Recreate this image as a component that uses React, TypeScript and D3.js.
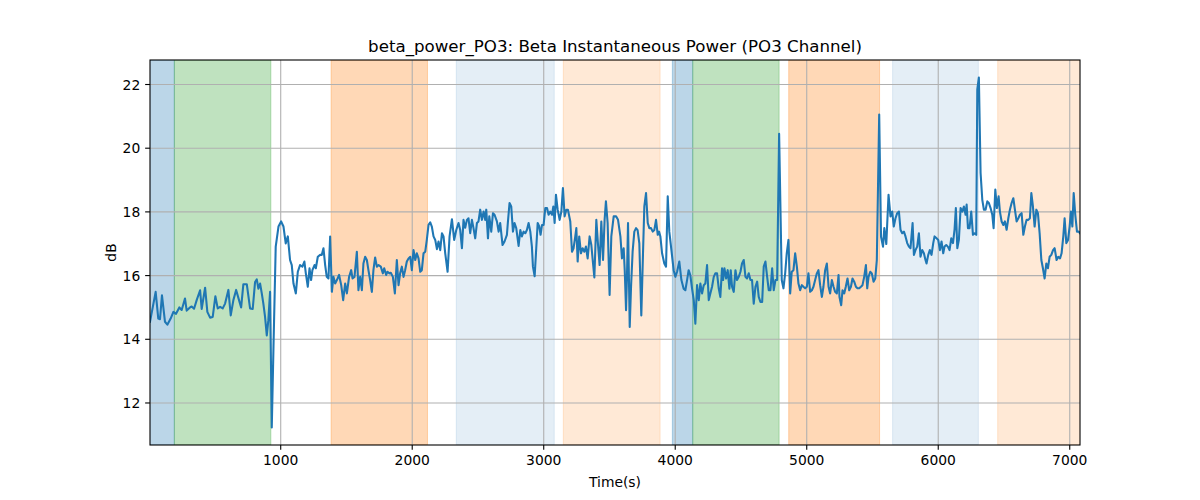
import React from "react";
import * as d3 from "d3";

// ---- data ----
const times = [
  6, 49, 69, 82, 97, 120, 138, 163, 184, 204, 229, 247, 272, 285, 310, 323, 341, 361, 387, 399,
  425, 442, 463, 483, 503, 521, 539, 559, 577, 602, 620, 640, 661, 678, 699, 716, 742, 767, 787,
  805, 818, 830, 843, 856, 868, 881, 894, 906, 919, 932, 945, 962, 983, 1003, 1021, 1038, 1054,
  1071, 1084, 1097, 1115, 1130, 1147, 1165, 1180, 1191, 1206, 1219, 1231, 1241, 1257, 1267, 1282,
  1300, 1312, 1325, 1338, 1350, 1363, 1376, 1389, 1401, 1414, 1427, 1444, 1460, 1475, 1490, 1503,
  1520, 1536, 1546, 1561, 1579, 1591, 1604,
  1617, 1629, 1642, 1655, 1667, 1680, 1693, 1705, 1718, 1731, 1744, 1761, 1777, 1787, 1802, 1812,
  1827, 1837, 1853, 1868, 1883, 1896, 1908, 1921, 1934, 1946, 1959, 1972, 1985, 1997, 2010, 2023,
  2035, 2048, 2061, 2073, 2086, 2099, 2111, 2124, 2137, 2149, 2162, 2175, 2188, 2200, 2213, 2226,
  2238, 2251, 2269, 2284, 2302, 2319, 2335, 2352, 2365, 2378, 2390, 2403,
  2416, 2428, 2441, 2454, 2466, 2479, 2492, 2504, 2517, 2530, 2543, 2555, 2563, 2576, 2586, 2601,
  2614, 2626, 2644, 2657, 2669, 2687, 2702, 2720, 2728, 2740, 2753, 2766, 2778, 2791, 2809, 2822,
  2834, 2847, 2860, 2872, 2885, 2898, 2910, 2918, 2931, 2941, 2954, 2966, 2976, 2987, 2999, 3012,
  3025, 3037, 3050, 3063, 3073, 3083, 3093, 3106, 3121, 3134, 3146, 3159, 3172, 3184, 3202,
  3215, 3227, 3240, 3248, 3258, 3270, 3283, 3296, 3309, 3321, 3334, 3349, 3362, 3375, 3385, 3400,
  3413, 3425, 3438, 3451, 3463, 3473, 3486, 3501, 3514, 3532, 3550, 3565, 3583, 3595, 3608, 3616,
  3626, 3633, 3641, 3654, 3664, 3676, 3689, 3702, 3714, 3727, 3742, 3755, 3765, 3778, 3791, 3803,
  3816, 3829, 3841, 3854, 3867, 3877, 3887, 3900, 3917, 3930, 3943, 3955, 3971, 3988, 4001,
  4014, 4031, 4047, 4064, 4077, 4090, 4102, 4115, 4128, 4141, 4153, 4166, 4179, 4191, 4204, 4217,
  4229, 4242, 4255, 4267, 4280, 4293, 4305, 4318, 4331, 4343, 4356, 4364, 4374, 4387, 4399, 4412,
  4422, 4432, 4445, 4458, 4470, 4483, 4496, 4508, 4521, 4534, 4546, 4559, 4572, 4584, 4597, 4610,
  4623, 4635, 4648, 4661, 4673, 4686, 4699, 4711, 4724, 4737, 4749, 4762, 4775, 4790,
  4810, 4823, 4836, 4848, 4861, 4874, 4886, 4899, 4912, 4925, 4937, 4950, 4963, 4975, 4988, 5001,
  5013, 5026, 5039, 5051, 5064, 5077, 5089, 5102, 5115, 5127, 5140, 5153, 5166, 5178, 5191, 5204,
  5216, 5229, 5242, 5249, 5262, 5272, 5285, 5297, 5310, 5323, 5336, 5348, 5361, 5374, 5386, 5399,
  5412, 5424, 5437, 5450, 5460, 5470, 5483, 5495, 5508, 5521, 5533, 5551,
  5565, 5580, 5590, 5605, 5622, 5637, 5650, 5662, 5675, 5688, 5701, 5713, 5726, 5739, 5751, 5764,
  5777, 5789, 5805, 5815, 5827, 5840, 5853, 5865, 5878, 5891, 5903, 5911, 5924, 5936, 5949, 5962,
  5972, 5987, 6000, 6013, 6025, 6038, 6048, 6061, 6073, 6086, 6099, 6112, 6124, 6134, 6145, 6157,
  6170, 6183, 6195, 6208, 6216, 6226, 6238, 6251, 6264, 6276, 6289, 6297, 6309, 6322,
  6335, 6347, 6360, 6373, 6385, 6398, 6411, 6421, 6434, 6446, 6459, 6469, 6482, 6495, 6507, 6520,
  6533, 6545, 6558, 6571, 6583, 6596, 6609, 6621, 6634, 6647, 6659, 6672, 6685, 6697, 6708, 6720,
  6733, 6746, 6758, 6771, 6784, 6796, 6809, 6822, 6834, 6847, 6860, 6873, 6885, 6900, 6913, 6926,
  6938, 6951, 6961, 6974, 6987, 6999, 7009, 7020, 7030, 7042, 7055, 7068, 7078,
];

const power = [
  14.55, 15.49, 14.65, 14.63, 15.38, 14.55, 14.46, 14.65, 14.86, 14.8, 15.0, 14.92, 15.28, 14.9,
  15.0, 15.03, 14.96, 15.23, 15.54, 14.95, 15.62, 14.86, 14.68, 14.7, 15.35, 14.97, 15.02, 14.97,
  15.12, 15.55, 14.75, 15.23, 15.55, 15.3, 15.0, 15.73, 15.73, 14.97, 14.95,
  15.8, 15.88, 15.59, 15.75, 15.44, 15.12, 14.7, 14.12, 14.6, 15.49, 11.23, 13.76, 16.91, 17.54,
  17.7, 17.54, 17.01, 17.23, 16.49, 16.33, 15.75, 15.44, 16.12, 16.33, 16.28, 16.44, 16.07, 15.65,
  16.23, 15.86, 16.17, 16.33, 16.23, 16.59, 16.65, 16.65, 16.86, 16.33, 15.96, 15.91, 17.23, 15.49,
  15.96, 15.75, 15.86, 16.02, 15.7, 15.23, 15.75, 15.44, 15.96, 16.17, 15.91, 15.96, 16.75, 15.54,
  15.96,
  15.54, 16.38, 16.59, 16.49, 16.17, 15.86, 15.49, 16.17, 16.57, 16.28, 16.33, 16.28, 16.07, 16.23,
  16.02, 16.12, 16.07, 16.09, 15.96, 15.44, 16.49, 15.7, 16.07, 16.28, 15.96, 16.17, 16.44, 16.54,
  16.59, 16.17, 16.8, 16.49, 16.7, 16.54, 16.12, 16.17, 16.7, 16.75, 17.12, 17.59, 17.67, 17.54,
  17.23, 17.12, 16.83, 17.07, 16.8, 17.33, 17.23, 16.7, 16.12, 17.23, 17.77, 17.12, 17.43, 17.65,
  17.43, 16.86, 17.75, 17.5,
  17.75, 17.8, 17.33, 17.75, 17.49, 17.17, 17.65, 17.7, 18.07, 17.75, 18.01, 17.75, 18.07, 17.17,
  17.86, 17.38, 17.96, 17.91, 17.7, 17.38, 17.65, 16.96, 17.07, 17.28, 17.7, 18.28, 18.17, 17.38,
  17.65, 17.49, 16.93, 17.43, 17.23, 17.38, 17.33, 17.43, 17.65, 17.38, 16.91, 16.28, 15.98, 16.7,
  17.65, 17.54, 17.28, 17.59, 17.59, 18.12, 18.12, 17.91, 18.01, 17.91, 18.17, 17.65, 18.54, 18.07,
  17.75, 18.01, 18.75, 17.86, 18.07, 18.07, 17.7,
  16.75, 16.86, 17.23, 17.49, 16.44, 17.23, 16.7, 16.86, 16.75, 16.91, 16.54, 17.23, 16.96, 16.38,
  15.94, 17.75, 16.96, 16.33, 17.7, 16.49, 17.75, 18.33, 17.65, 15.39, 17.23, 17.86, 17.86, 17.75,
  17.23, 16.54, 16.86, 16.17, 14.91, 15.96, 17.65, 14.39, 15.65, 16.75, 17.38, 17.49, 17.43, 17.01,
  14.75, 16.7, 18.17, 18.59, 17.65, 17.49, 17.49, 17.38, 17.43, 17.75, 17.28, 17.38, 17.23, 16.7,
  16.38, 16.28, 18.49, 17.38, 16.8, 16.17, 15.96,
  16.12, 16.44, 15.86, 15.59, 15.54, 15.86, 16.17, 16.01, 15.59, 15.23, 14.49, 15.7, 15.23, 15.75,
  15.44, 15.7, 15.75, 16.33, 15.23, 15.44, 15.65, 15.96, 16.07, 16.07, 15.59, 15.33, 16.23, 15.86,
  16.23, 15.91, 16.17, 15.59, 16.17, 15.65, 15.49, 16.17, 15.86, 15.96, 16.12, 16.38, 16.49, 15.96,
  15.91, 16.07, 15.86, 15.86, 15.12, 15.65, 15.81, 15.33, 15.17, 15.17, 16.28, 16.44, 15.96, 15.54,
  15.54, 16.23, 15.54, 15.86, 15.86, 20.45,
  15.86, 15.6, 16.07, 16.7, 17.12, 15.44, 16.12, 16.17, 16.7, 16.28, 15.75, 15.54, 15.7, 15.65,
  15.6, 15.65, 16.07, 15.49, 15.54, 15.65, 15.86, 16.07, 16.17, 15.7, 15.33, 15.65, 16.17, 16.38,
  15.65, 15.44, 15.86, 15.65, 15.49, 15.44, 16.02, 15.33, 15.07, 15.54, 15.44, 15.65, 15.91, 15.54,
  15.65, 15.91, 15.81, 15.65, 15.6, 15.6, 15.65, 15.7, 15.96, 16.33, 15.6, 15.96, 16.12, 16.07,
  15.81, 15.91, 16.49, 21.06,
  17.22, 16.91, 17.49, 16.99, 18.54, 17.86, 18.01, 17.54, 17.8, 17.96, 18.01, 17.44, 17.33, 17.38,
  17.23, 17.02, 16.91, 16.86, 17.65, 16.65, 16.8, 16.91, 17.33, 16.59, 16.8, 16.7, 16.49, 16.38,
  16.65, 16.8, 16.65, 17.02, 17.23, 17.17, 17.12, 16.8, 17.07, 16.7, 16.91, 16.96, 16.91, 16.8,
  17.17, 17.02, 17.44, 18.12, 16.86, 17.12, 18.12, 18.01, 18.17, 17.91, 18.23, 17.49, 17.49, 18.01,
  17.28, 17.33, 17.28, 21.85, 22.22, 19.22,
  18.38, 18.07, 18.07, 18.33, 18.28, 18.12, 17.91, 17.49, 18.7, 18.12, 18.49, 18.01, 17.7, 17.59,
  17.7, 17.44, 17.8, 18.07, 18.28, 18.43, 18.07, 17.7, 17.8, 17.91, 17.96, 17.28, 17.54, 17.75,
  17.75, 17.8, 18.59, 18.17, 17.54, 18.07, 17.96, 17.33, 16.49, 16.23, 15.91, 16.38, 16.23, 16.59,
  16.65, 16.8, 16.86, 16.49, 16.59, 16.54, 16.7, 17.23, 17.8, 17.02, 17.12, 17.54, 18.01, 17.54,
  18.59, 17.91, 17.38, 17.38, 17.33,
];

const spanStarts = [0, 191, 1383, 2335, 3149, 3978, 4133, 4863, 5653, 6452];
const spanEnds = [191, 925, 2116, 3080, 3885, 4133, 4790, 5554, 6305, 7100];
const spanKinds = [
  "blue", "green", "orange", "lightblue", "lightorange",
  "blue", "green", "orange", "lightblue", "lightorange",
];

const xTicks = [1000, 2000, 3000, 4000, 5000, 6000, 7000];
const yTicks = [12, 14, 16, 18, 20, 22];

const titleText = "beta_power_PO3: Beta Instantaneous Power (PO3 Channel)";
const xLabelText = "Time(s)";
const yLabelText = "dB";

// ---- styles ----
const spanStyle: Record<string, { fill: string; opacity: number }> = {
  blue: { fill: "#1f77b4", opacity: 0.3 },
  green: { fill: "#2ca02c", opacity: 0.3 },
  orange: { fill: "#ff7f0e", opacity: 0.3 },
  lightblue: { fill: "#1f77b4", opacity: 0.12 },
  lightorange: { fill: "#ff7f0e", opacity: 0.17 },
};

const W = 1200;
const H = 500;
const left = 150;
const right = 1080;
const top = 60;
const bottom = 445;
const font = "'DejaVu Sans', sans-serif";

export default function App() {
  const x = d3
    .scaleLinear()
    .domain([times[0], times[times.length - 1]])
    .range([left, right]);
  const [mn, mx] = d3.extent(power) as [number, number];
  const pad = (mx - mn) * 0.05;
  const y = d3.scaleLinear().domain([mn - pad, mx + pad]).range([bottom, top]);

  const pts = times.map((t, i) => [t, power[i]] as [number, number]);
  const line = d3
    .line<[number, number]>()
    .x((d) => x(d[0]))
    .y((d) => y(d[1]));

  const tickLen = 4.86;
  const tickPad = 4.86;

  return (
    <svg width={W} height={H} style={{ display: "block", position: "absolute", left: 0, top: 0 }}>
      <defs>
        <clipPath id="plotclip">
          <rect x={left} y={top} width={right - left} height={bottom - top} />
        </clipPath>
      </defs>
      <rect x={0} y={0} width={W} height={H} fill="#fff" />
      <g clipPath="url(#plotclip)">
        {spanStarts.map((s, i) => {
          const st = spanStyle[spanKinds[i]];
          const x0 = x(s);
          const x1 = x(spanEnds[i]);
          return (
            <rect
              key={i}
              x={x0}
              y={top}
              width={x1 - x0}
              height={bottom - top}
              fill={st.fill}
              fillOpacity={st.opacity}
              stroke={st.fill}
              strokeOpacity={st.opacity}
              strokeWidth={1}
            />
          );
        })}
        {xTicks.map((t) => (
          <line key={"gx" + t} x1={x(t)} x2={x(t)} y1={top} y2={bottom} stroke="#b0b0b0" strokeWidth={1.1} />
        ))}
        {yTicks.map((t) => (
          <line key={"gy" + t} x1={left} x2={right} y1={y(t)} y2={y(t)} stroke="#b0b0b0" strokeWidth={1.1} />
        ))}
        <path d={line(pts) || ""} fill="none" stroke="#1f77b4" strokeWidth={2.08} strokeLinejoin="round" strokeLinecap="square" />
      </g>
      <rect x={left} y={top} width={right - left} height={bottom - top} fill="none" stroke="#000" strokeWidth={1.1} />
      {xTicks.map((t) => (
        <g key={"tx" + t}>
          <line x1={x(t)} x2={x(t)} y1={bottom} y2={bottom + tickLen} stroke="#000" strokeWidth={1.1} />
          <text x={x(t)} y={bottom + tickLen + tickPad + 10.6} textAnchor="middle" fontFamily={font} fontSize={13.89} fill="#000">
            {t}
          </text>
        </g>
      ))}
      {yTicks.map((t) => (
        <g key={"ty" + t}>
          <line x1={left - tickLen} x2={left} y1={y(t)} y2={y(t)} stroke="#000" strokeWidth={1.1} />
          <text x={left - tickLen - tickPad} y={y(t) + 5.1} textAnchor="end" fontFamily={font} fontSize={13.89} fill="#000">
            {t}
          </text>
        </g>
      ))}
      <text x={(left + right) / 2} y={top - 8.3} textAnchor="middle" fontFamily={font} fontSize={16.67} fill="#000">
        {titleText}
      </text>
      <text x={(left + right) / 2} y={486.5} textAnchor="middle" fontFamily={font} fontSize={13.89} fill="#000">
        {xLabelText}
      </text>
      <text
        x={0}
        y={0}
        transform={`translate(116,${(top + bottom) / 2}) rotate(-90)`}
        textAnchor="middle"
        fontFamily={font}
        fontSize={13.89}
        fill="#000"
      >
        {yLabelText}
      </text>
    </svg>
  );
}
